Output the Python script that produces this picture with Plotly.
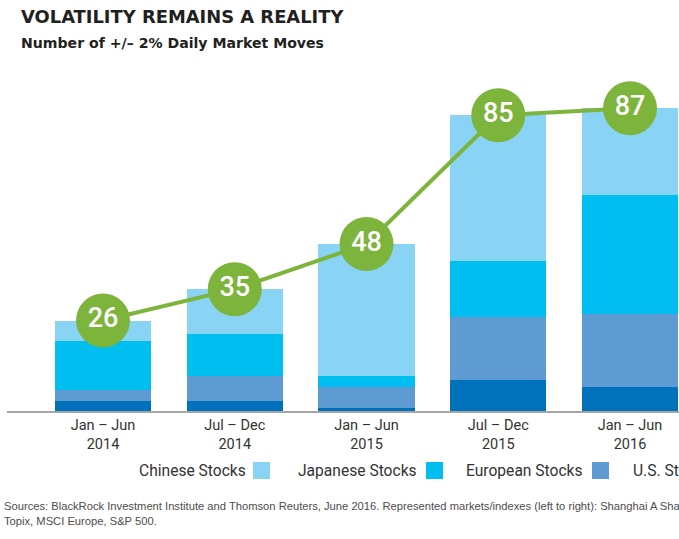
import plotly.graph_objects as go

# ---- data ----
periods = ["Jan – Jun<br>2014", "Jul – Dec<br>2014", "Jan – Jun<br>2015", "Jul – Dec<br>2015", "Jan – Jun<br>2016"]
us_stocks = [3, 3, 1, 9, 7]
european_stocks = [3, 7, 6, 18, 21]
japanese_stocks = [14, 12, 3, 16, 34]
chinese_stocks = [6, 13, 38, 42, 25]
totals = [26, 35, 48, 85, 87]

series_names = ["Chinese Stocks", "Japanese Stocks", "European Stocks", "U.S. Stocks"]
colors = {
    "Chinese Stocks": "#89D4F5",
    "Japanese Stocks": "#00BFF0",
    "European Stocks": "#5E9BD2",
    "U.S. Stocks": "#0072BB",
}
green = "#7DB43C"
footer_lines = [
    "Sources: BlackRock Investment Institute and Thomson Reuters, June 2016. Represented markets/indexes (left to right): Shanghai A Shares,",
    "Topix, MSCI Europe, S&P 500.",
]

W, H = 679, 539
ML, MR, MT, MB = 7, 0, 60, 128
PW, PH = W - ML - MR, H - MT - MB

def px(x):
    return (x - ML) / PW

def py(y):
    return (H - MB - y) / PH

xpos = list(range(len(periods)))

fig = go.Figure()
stack = [("U.S. Stocks", us_stocks), ("European Stocks", european_stocks),
         ("Japanese Stocks", japanese_stocks), ("Chinese Stocks", chinese_stocks)]
for name, vals in stack:
    fig.add_trace(go.Bar(x=xpos, y=vals, name=name, marker=dict(color=colors[name], line=dict(width=0)),
                         width=0.729, showlegend=False, hoverinfo="skip"))

fig.add_trace(go.Scatter(
    x=xpos, y=totals, mode="lines+markers+text",
    line=dict(color=green, width=4),
    marker=dict(size=54, color=green, line=dict(width=0)),
    text=[str(t) for t in totals], textposition="middle center",
    textfont=dict(family="Roboto", size=27, color="white", weight=500),
    showlegend=False, hoverinfo="skip", cliponaxis=False,
))

annotations = [
    dict(text="VOLATILITY REMAINS A REALITY", xref="paper", yref="paper", x=px(18.5), y=py(17),
         xanchor="left", yanchor="middle", showarrow=False,
         font=dict(family="DejaVu Sans", size=17.9, color="#231F20", weight="bold")),
    dict(text="Number of +/– 2% Daily Market Moves", xref="paper", yref="paper", x=px(18.5), y=py(43),
         xanchor="left", yanchor="middle", showarrow=False,
         font=dict(family="DejaVu Sans", size=14.1, color="#231F20", weight="bold")),
]
for line, yy in zip(footer_lines, [505.5, 520.5]):
    annotations.append(dict(text=line, xref="paper", yref="paper", x=px(2), y=py(yy),
                            xanchor="left", yanchor="middle", align="left", showarrow=False,
                            font=dict(family="Liberation Sans", size=11.2, color="#4D4D4D")))

shapes = []
# legend: label followed by a square
label_starts = [137, 296, 464, 631]
square_lefts = [253, 426, 592]
for i, name in enumerate(series_names):
    annotations.append(dict(text=name, xref="paper", yref="paper", x=px(label_starts[i]), y=py(471),
                            xanchor="left", yanchor="middle", showarrow=False,
                            font=dict(family="Roboto", size=15.6, color="#333333")))
    if i < len(square_lefts):
        shapes.append(dict(type="rect", xref="paper", yref="paper",
                           x0=px(square_lefts[i]), x1=px(square_lefts[i] + 17),
                           y0=py(479), y1=py(462), fillcolor=colors[name], line=dict(width=0)))

fig.update_layout(
    width=W, height=H, margin=dict(l=ML, r=MR, t=MT, b=MB, pad=0),
    paper_bgcolor="white", plot_bgcolor="white",
    barmode="stack", bargap=0,
    annotations=annotations, shapes=shapes,
    xaxis=dict(range=[-96 / 131.75, (679 - 103) / 131.75], tickvals=xpos, ticktext=periods,
               showgrid=False, zeroline=False, showline=True, linecolor="#A6A6A6", linewidth=2,
               ticks="", tickfont=dict(family="Roboto", size=14.5, color="#333333"), fixedrange=True),
    yaxis=dict(range=[0, PH / 3.48], visible=False, showgrid=False, zeroline=False, fixedrange=True),
)

fig.write_html("out.html", config={"displayModeBar": False},
               post_script="document.body.style.margin='0';document.body.style.overflow='hidden';")
